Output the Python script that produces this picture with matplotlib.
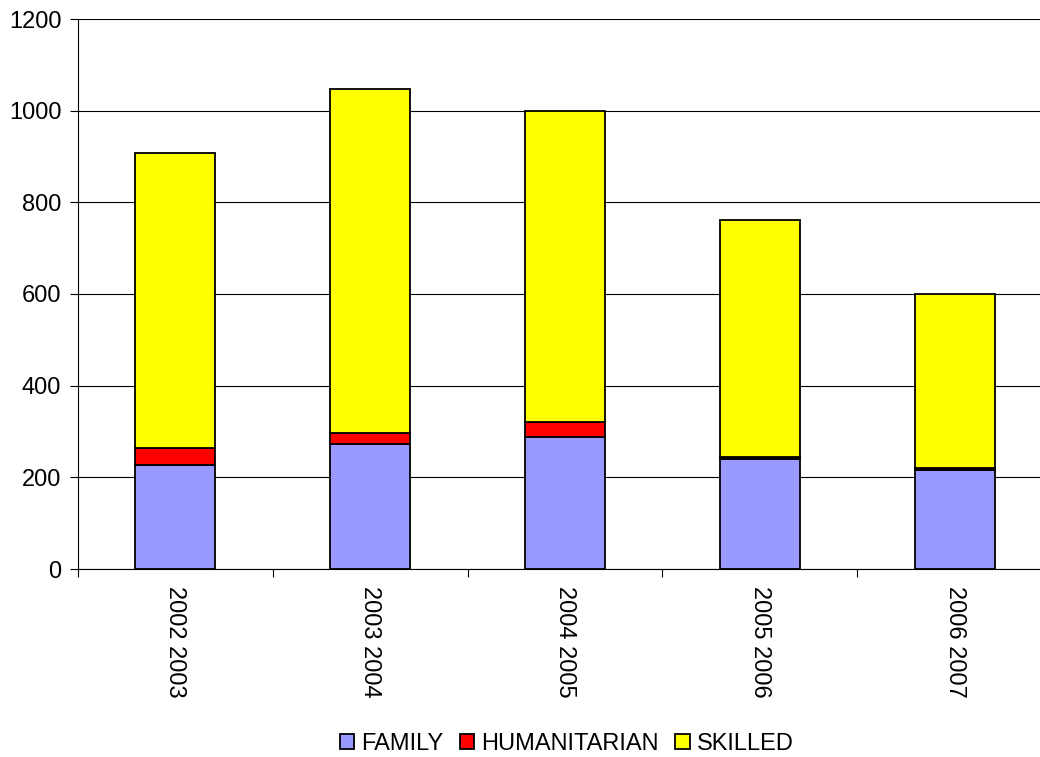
import matplotlib
matplotlib.use("Agg")
import matplotlib.pyplot as plt
import numpy as np

plt.rcParams["font.family"] = ["Liberation Sans", "DejaVu Sans"]

# ── Data ──────────────────────────────────────────────────────────────────────
years        = ["2002 2003", "2003 2004", "2004 2005", "2005 2006", "2006 2007"]
family       = [227, 272, 288, 240, 216]
humanitarian = [37, 25, 33, 4, 4]
skilled      = [644, 750, 678, 517, 380]

# ── Plot ──────────────────────────────────────────────────────────────────────
fig = plt.figure(figsize=(10.4, 7.57), dpi=100)
# plot area runs slightly past the right edge of the image, as in the source
ax = fig.add_axes([78 / 1040, 1 - 569 / 757, 974 / 1040, 550 / 757])

x = np.arange(len(years))
fam = np.array(family)
hum = np.array(humanitarian)
sk = np.array(skilled)

kw = dict(width=0.41, edgecolor="black", linewidth=1.3, zorder=3)
ax.bar(x, fam, color="#9999ff", label="FAMILY", **kw)
ax.bar(x, hum, bottom=fam, color="#ff0000", label="HUMANITARIAN", **kw)
ax.bar(x, sk, bottom=fam + hum, color="#ffff00", label="SKILLED", **kw)

ax.set_xlim(-0.5, len(years) - 0.5)
ax.set_ylim(0, 1200)
ax.set_yticks(range(0, 1201, 200))
ax.yaxis.grid(True, color="black", linewidth=0.8, zorder=0)
ax.set_axisbelow(True)

ax.set_xticks(x)
ax.set_xticklabels(years, rotation=-90, fontsize=17)
ax.tick_params(axis="x", length=0, pad=12)
ax.set_xticks(np.arange(-0.5, len(years), 1), minor=True)
ax.tick_params(axis="x", which="minor", length=6, direction="out", width=0.8)
ax.tick_params(axis="y", labelsize=17, length=6, direction="out", width=0.8, pad=6)

for s in ["top", "right"]:
    ax.spines[s].set_visible(False)
ax.spines["left"].set_linewidth(0.8)
ax.spines["bottom"].set_linewidth(0.8)

fig.legend(loc="center", bbox_to_anchor=(0.545, 1 - 744 / 757), ncol=3,
           frameon=False, fontsize=17, handlelength=0.6, handleheight=0.6,
           handletextpad=0.3, columnspacing=0.7)

fig.savefig("out.png", dpi=100)
